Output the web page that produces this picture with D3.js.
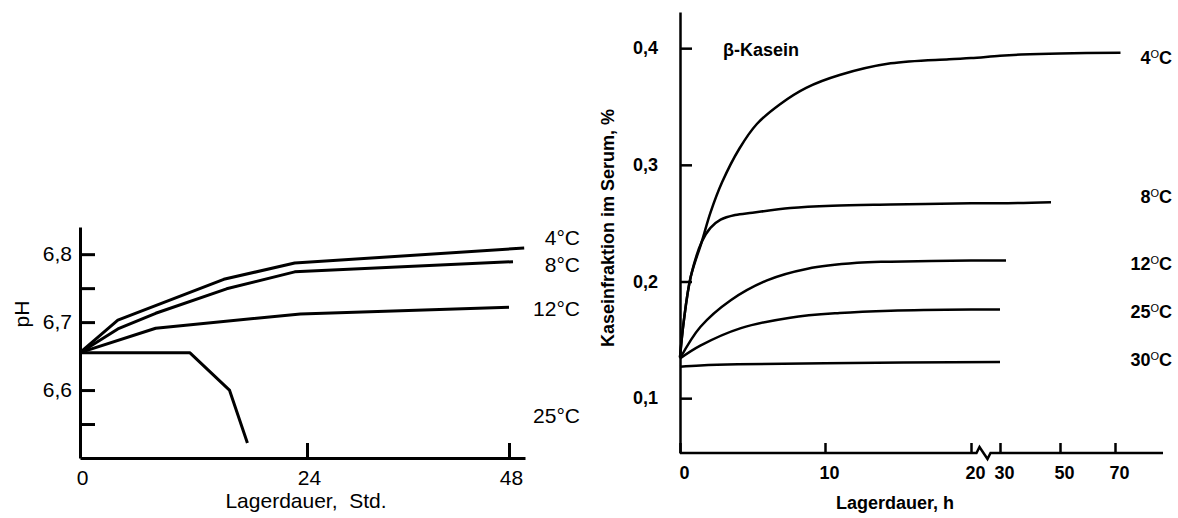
<!DOCTYPE html>
<html>
<head>
<meta charset="utf-8">
<script src="https://cdn.jsdelivr.net/npm/d3@7/dist/d3.min.js"></script>
<style>
  body { margin: 0; background: #fff; }
  svg { display: block; background: #fff; font-family: "Liberation Sans", Arial, sans-serif; }
  .left text { font-size: 21px; fill: #000; }
  .right text { font-size: 18px; font-weight: bold; fill: #000; }
  .axis path, .axis line { stroke: #000; }
  .curve { fill: none; stroke: #000; stroke-linejoin: round; }
</style>
</head>
<body>
<svg class="chart" width="1178" height="518"></svg>
<script>
// --- left panel: pH vs storage time (Std.)
var phSeries = ["4°C", "8°C", "12°C", "25°C"];
var phHours = [
  [0, 4, 15.2, 22.7, 49.9],
  [0, 4, 8, 15.5, 22.7, 48.5],
  [0, 8, 23.3, 48],
  [0, 11.6, 15.8, 17.7]
];
var phValues = [
  [6.655, 6.703, 6.763, 6.787, 6.809],
  [6.655, 6.690, 6.713, 6.749, 6.774, 6.789],
  [6.655, 6.691, 6.712, 6.722],
  [6.655, 6.655, 6.600, 6.522]
];
var phTicks = [6.55, 6.6, 6.7, 6.75, 6.8];
var phTickLabels = {"6.6": "6,6", "6.7": "6,7", "6.8": "6,8"};
var phHourTicks = [0, 24, 48];

// --- right panel: beta-casein in serum vs storage time (h)
var kSeries = ["4", "8", "12", "25", "30"];
var kHours = [
  [0, 0.25, 0.74, 1.5, 2.1, 2.9, 4.1, 5.3, 6.9, 8.7, 11, 14.5, 18.5, 20, 30, 37, 50, 72],
  [0, 0.25, 0.74, 1.5, 2.1, 2.8, 3.8, 5, 7.6, 10.5, 14.5, 20, 30, 47],
  [0, 1.4, 3.5, 6, 8.8, 12.2, 14.5, 20, 32],
  [0, 1.4, 4.2, 7.6, 11, 14.5, 20, 30],
  [0, 1.4, 4, 10, 30]
];
var kValues = [
  [0.135, 0.165, 0.204, 0.234, 0.259, 0.285, 0.314, 0.335, 0.352, 0.366, 0.377, 0.387, 0.3905, 0.3915, 0.3935, 0.3945, 0.3955, 0.396],
  [0.135, 0.165, 0.204, 0.234, 0.246, 0.253, 0.257, 0.259, 0.263, 0.265, 0.266, 0.267, 0.267, 0.268],
  [0.134, 0.161, 0.184, 0.201, 0.211, 0.216, 0.217, 0.218, 0.218],
  [0.134, 0.145, 0.160, 0.169, 0.173, 0.175, 0.176, 0.176],
  [0.127, 0.128, 0.129, 0.130, 0.131]
];
var kTicks = [0.1, 0.2, 0.3, 0.4];
var kTickLabels = {"0.1": "0,1", "0.2": "0,2", "0.3": "0,3", "0.4": "0,4"};
var kHourTicks = [0, 10, 20, 30, 50, 70];

var svg = d3.select(".chart");

function zip(xs, ys) {
  return xs.map(function(x, i) { return [x, ys[i]]; });
}

// ================= left =================
(function() {
  var g = svg.append("g").attr("class", "left");

  // the drawn time axis is not uniform: first 24 h is wider than the second
  var x = d3.scaleLinear().domain([0, 24, 48, 50]).range([80, 307, 509, 525]);
  var y = d3.scaleLinear().domain([6.5, 6.84]).range([458, 227]);

  var line = d3.line()
    .x(function(d) { return x(d[0]); })
    .y(function(d) { return y(d[1]); });

  g.selectAll(".curve")
    .data(phHours.map(function(h, i) { return zip(h, phValues[i]); }))
    .enter().append("path")
    .attr("class", "curve")
    .attr("stroke-width", 3)
    .attr("d", line);

  var xAxis = g.append("g")
    .attr("class", "axis")
    .attr("transform", "translate(0,458)")
    .call(d3.axisBottom(x).tickValues(phHourTicks).tickSize(-15).tickSizeOuter(0).tickPadding(12));
  xAxis.selectAll("path, line").attr("stroke-width", 3);
  xAxis.selectAll("text").attr("font-size", null).attr("font-family", null).attr("dx", 2);

  var yAxis = g.append("g")
    .attr("class", "axis")
    .attr("transform", "translate(80,0)")
    .call(d3.axisLeft(y).tickValues(phTicks).tickSize(-15).tickSizeOuter(0).tickPadding(8)
      .tickFormat(function(d) { return phTickLabels[String(d)] || ""; }));
  yAxis.selectAll("path, line").attr("stroke-width", 3);
  yAxis.selectAll("text").attr("font-size", null).attr("font-family", null);

  g.append("text")
    .attr("transform", "translate(29,314) rotate(-90)")
    .attr("text-anchor", "middle")
    .text("pH");

  g.append("text")
    .attr("x", 306).attr("y", 508)
    .attr("text-anchor", "middle")
    .text("Lagerdauer,\u00a0 Std.");

  var labelY = [244.5, 271.5, 315.5, 422.5];
  g.selectAll(".lab")
    .data(phSeries)
    .enter().append("text")
    .attr("class", "lab")
    .attr("x", 580)
    .attr("y", function(d, i) { return labelY[i]; })
    .attr("text-anchor", "end")
    .text(function(d) { return d; });
})();

// ================= right =================
(function() {
  var g = svg.append("g").attr("class", "right");

  // axis is broken between 20 and 30 h
  var x = d3.scaleLinear().domain([0, 10, 20, 30, 50, 70]).range([680, 825, 971, 1000, 1060, 1115]);
  var y = d3.scaleLinear().domain([0.053, 0.431]).range([453, 12]);

  var line = d3.line()
    .curve(d3.curveCatmullRom.alpha(0.5))
    .x(function(d) { return x(d[0]); })
    .y(function(d) { return y(d[1]); });

  g.selectAll(".curve")
    .data(kHours.map(function(h, i) { return zip(h, kValues[i]); }))
    .enter().append("path")
    .attr("class", "curve")
    .attr("stroke-width", 2.5)
    .attr("d", line);

  var xAxis = g.append("g")
    .attr("class", "axis")
    .attr("transform", "translate(0,453)")
    .call(d3.axisBottom(x).tickValues(kHourTicks).tickSize(-10).tickSizeOuter(0).tickPadding(13));
  xAxis.select(".domain").remove();
  xAxis.selectAll("line").attr("stroke-width", 2.5);
  xAxis.selectAll("text").attr("font-size", null).attr("font-family", null).attr("dx", 4);

  // axis line with the zigzag break
  var bx = (x(20) + x(30)) / 2;
  g.append("path")
    .attr("fill", "none")
    .attr("stroke", "#000")
    .attr("stroke-width", 2.5)
    .attr("d", "M" + x(0) + ",453H" + (bx - 9) + "L" + (bx - 6) + ",447L" + (bx + 2) + ",459L" + (bx + 5) + ",453H1163");

  var yAxis = g.append("g")
    .attr("class", "axis")
    .attr("transform", "translate(680,0)")
    .call(d3.axisLeft(y).tickValues(kTicks).tickSize(-12).tickSizeOuter(0).tickPadding(22)
      .tickFormat(function(d) { return kTickLabels[String(d)]; }));
  yAxis.selectAll("path, line").attr("stroke-width", 2.5);
  yAxis.selectAll("text").attr("font-size", null).attr("font-family", null);

  g.append("text")
    .attr("transform", "translate(614,228) rotate(-90)")
    .attr("text-anchor", "middle")
    .text("Kaseinfraktion im Serum, %");

  g.append("text")
    .attr("x", 895).attr("y", 509)
    .attr("text-anchor", "middle")
    .text("Lagerdauer, h");

  g.append("text")
    .attr("x", 723).attr("y", 55.5)
    .text("β-Kasein");

  var labelY = [63.5, 202.5, 269.5, 317.5, 365.5];
  var lab = g.selectAll(".lab")
    .data(kSeries)
    .enter().append("text")
    .attr("class", "lab")
    .attr("x", 1172)
    .attr("y", function(d, i) { return labelY[i]; })
    .attr("text-anchor", "end");
  lab.append("tspan").text(function(d) { return d; });
  lab.append("tspan").attr("font-size", "11px").attr("font-weight", "normal").attr("dy", -6).text("O");
  lab.append("tspan").attr("dy", 6).text("C");
})();
</script>
</body>
</html>
